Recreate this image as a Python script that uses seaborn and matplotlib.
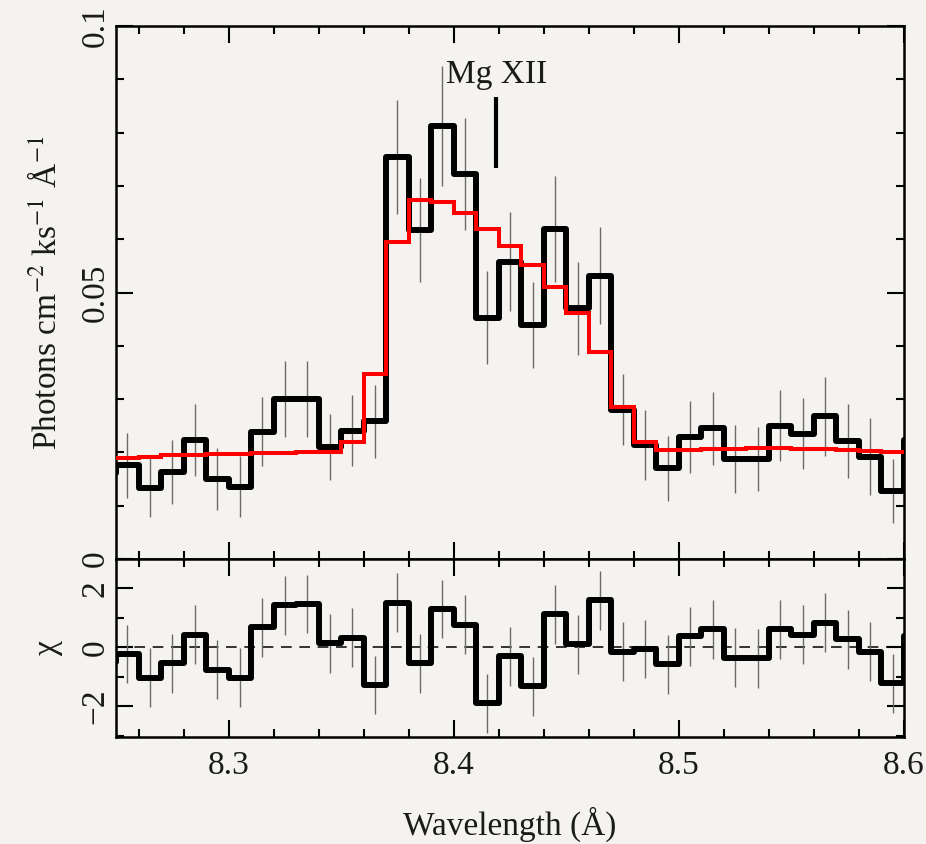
import numpy as np
import pandas as pd
import matplotlib
matplotlib.use("Agg")
import matplotlib.pyplot as plt
import seaborn as sns
from matplotlib.ticker import MultipleLocator, FixedLocator

# ---------------- data ----------------
# bin centres in Angstrom (one extra bin just outside each end of the plotted range)
wavelength = [8.245, 8.255, 8.265, 8.275, 8.285, 8.295, 8.305, 8.315, 8.325, 8.335,
              8.345, 8.355, 8.365, 8.375, 8.385, 8.395, 8.405, 8.415, 8.425, 8.435,
              8.445, 8.455, 8.465, 8.475, 8.485, 8.495, 8.505, 8.515, 8.525, 8.535,
              8.545, 8.555, 8.565, 8.575, 8.585, 8.595, 8.605]

# observed flux (photons cm^-2 ks^-1 A^-1)
flux = [0.0162, 0.0176, 0.0134, 0.0164, 0.0223, 0.0150, 0.0136, 0.0239, 0.0300, 0.0300,
        0.0210, 0.0241, 0.0258, 0.0754, 0.0617, 0.0812, 0.0722, 0.0453, 0.0558, 0.0439,
        0.0619, 0.0470, 0.0531, 0.0280, 0.0214, 0.0170, 0.0229, 0.0245, 0.0187, 0.0187,
        0.0250, 0.0235, 0.0268, 0.0221, 0.0192, 0.0128, 0.0223]

flux_err = [0.0060, 0.0061, 0.0055, 0.0060, 0.0067, 0.0058, 0.0058, 0.0065, 0.0072, 0.0071,
            0.0062, 0.0067, 0.0069, 0.0107, 0.0098, 0.0113, 0.0105, 0.0087, 0.0093, 0.0081,
            0.0099, 0.0087, 0.0091, 0.0067, 0.0066, 0.0061, 0.0067, 0.0069, 0.0064, 0.0060,
            0.0067, 0.0067, 0.0074, 0.0069, 0.0072, 0.0060, 0.0065]

# best-fit model
model = [0.0189, 0.0190, 0.0192, 0.0196, 0.0196, 0.0197, 0.0197, 0.0198, 0.0199, 0.0200,
         0.0201, 0.0220, 0.0347, 0.0594, 0.0674, 0.0669, 0.0649, 0.0619, 0.0588, 0.0552,
         0.0511, 0.0461, 0.0389, 0.0286, 0.0220, 0.0205, 0.0205, 0.0206, 0.0207, 0.0208,
         0.0208, 0.0207, 0.0206, 0.0204, 0.0202, 0.0200, 0.0200]

# residuals in units of sigma
chi = [-0.50, -0.23, -1.03, -0.54, 0.42, -0.77, -1.03, 0.68, 1.43, 1.47,
       0.14, 0.33, -1.28, 1.51, -0.54, 1.30, 0.76, -1.90, -0.30, -1.33,
       1.12, 0.10, 1.60, -0.15, -0.06, -0.58, 0.38, 0.61, -0.35, -0.37,
       0.61, 0.42, 0.84, 0.27, -0.15, -1.22, 0.38]
chi_err = 1.0

line_label = "Mg XII"
line_wave = 8.419
line_mark_y = (0.0733, 0.0867)
line_label_y = 0.0893

x_ticks = [8.3, 8.4, 8.5, 8.6]
x_ticklabels = ["8.3", "8.4", "8.5", "8.6"]
y_top_ticks = [0.0, 0.05, 0.1]
y_top_ticklabels = ["0", "0.05", "0.1"]
y_bot_ticks = [-2, 0, 2]
y_bot_ticklabels = ["\u22122", "0", "2"]

df = pd.DataFrame({"wavelength": wavelength, "flux": flux, "flux_err": flux_err,
                   "model": model, "chi": chi})

# ---------------- style ----------------
BG = "#f5f3ef"
TXT = "#1a1a1a"
sns.set_style("ticks")
plt.rcParams["font.family"] = ["Liberation Serif", "DejaVu Serif"]
plt.rcParams["mathtext.fontset"] = "stix"
plt.rcParams["axes.unicode_minus"] = True
plt.rcParams["text.color"] = TXT
plt.rcParams["axes.labelcolor"] = TXT
FS = 24

fig = plt.figure(figsize=(9.26, 8.44), dpi=100, facecolor=BG)
ax1 = fig.add_axes([116 / 926, 1 - 559 / 844, 788 / 926, 533 / 844])
ax2 = fig.add_axes([116 / 926, 1 - 737 / 844, 788 / 926, 178 / 844], sharex=ax1)

for ax in (ax1, ax2):
    ax.set_facecolor(BG)
    for s in ax.spines.values():
        s.set_linewidth(1.8)
        s.set_color("black")
        s.set_visible(True)
    ax.tick_params(which="both", direction="in", top=True, right=True,
                   bottom=True, left=True, color="black", width=1.5,
                   labelsize=FS, labelcolor=TXT)
    ax.tick_params(which="major", length=12)
    ax.tick_params(which="minor", length=6)
    ax.tick_params(axis="x", pad=10)
    ax.tick_params(axis="y", pad=4)

# ---------------- top panel ----------------
ax1.errorbar(df["wavelength"], df["flux"], yerr=df["flux_err"], fmt="none",
             ecolor="#6b6b6b", elinewidth=1.0, capsize=0, zorder=1)
sns.lineplot(data=df, x="wavelength", y="flux", ax=ax1, color="black",
             linewidth=4.3, drawstyle="steps-mid", estimator=None, sort=True,
             solid_joinstyle="round", solid_capstyle="round", zorder=2)
sns.lineplot(data=df, x="wavelength", y="model", ax=ax1, color="#ff0000",
             linewidth=2.9, drawstyle="steps-mid", estimator=None, sort=True,
             solid_joinstyle="miter", zorder=3)
ax1.vlines(line_wave, line_mark_y[0], line_mark_y[1], color="black", linewidth=3.0,
           zorder=4)
ax1.text(line_wave, line_label_y, line_label, ha="center", va="baseline",
         fontsize=FS, color=TXT)

ax1.set_xlim(8.25, 8.60)
ax1.set_ylim(0.0, 0.1)
ax1.yaxis.set_major_locator(FixedLocator(y_top_ticks))
ax1.set_yticklabels(y_top_ticklabels, rotation=90, va="center")
ax1.yaxis.set_minor_locator(MultipleLocator(0.01))
ax1.set_ylabel("Photons cm$^{-2}$ ks$^{-1}$ Å$^{-1}$", fontsize=FS, labelpad=12)
ax1.set_xlabel("")
plt.setp(ax1.get_xticklabels(), visible=False)

# ---------------- bottom panel ----------------
ax2.axhline(0, color="black", linewidth=1.1, dashes=(7, 5), zorder=0)
ax2.errorbar(df["wavelength"], df["chi"], yerr=chi_err, fmt="none",
             ecolor="#6b6b6b", elinewidth=1.0, capsize=0, zorder=1)
sns.lineplot(data=df, x="wavelength", y="chi", ax=ax2, color="black",
             linewidth=4.3, drawstyle="steps-mid", estimator=None, sort=True,
             solid_joinstyle="round", solid_capstyle="round", zorder=2)
ax2.set_ylim(-3.05, 3.0)
ax2.yaxis.set_major_locator(FixedLocator(y_bot_ticks))
ax2.set_yticklabels(y_bot_ticklabels, rotation=90, va="center")
ax2.yaxis.set_minor_locator(MultipleLocator(1))
ax2.set_ylabel("χ", fontsize=FS, labelpad=12)

ax2.set_xlim(8.25, 8.60)
ax2.xaxis.set_major_locator(FixedLocator(x_ticks))
ax2.set_xticklabels(x_ticklabels)
ax2.xaxis.set_minor_locator(MultipleLocator(0.02))
ax2.set_xlabel("Wavelength (Å)", fontsize=FS, labelpad=18)

fig.align_ylabels([ax1, ax2])
fig.savefig("out.png", dpi=100, facecolor=BG)
